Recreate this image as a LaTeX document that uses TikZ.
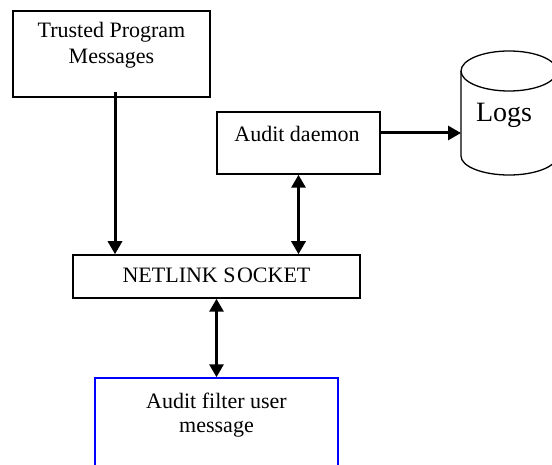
\documentclass[tikz,border=0pt]{standalone}
\usepackage{fontspec}
\setmainfont{Liberation Serif}
\usetikzlibrary{arrows.meta,calc}
\begin{document}
\begin{tikzpicture}[x=1pt,y=-1pt,
  box/.style={draw, line width=1.5pt, inner sep=0pt},
  txt/.style={font=\fontsize{22}{26}\selectfont, inner sep=0pt, anchor=base},
  arr/.style={line width=3pt, -{Triangle[length=13pt,width=14pt]}},
  darr/.style={line width=3pt, {Triangle[length=13pt,width=14pt]}-{Triangle[length=13pt,width=14pt]}}]
\useasboundingbox (0,0) rectangle (552,465);
\clip (0,0) rectangle (552,465);
% boxes
\node[box, minimum width=197pt, minimum height=86pt] (trusted) at (111.5,54) {};
\node[box, minimum width=163pt, minimum height=62pt] (audit) at (298.5,143) {};
\node[box, minimum width=287pt, minimum height=43pt] (netlink) at (216.5,276.5) {};
\node[box, draw={rgb,255:red,0;green,0;blue,255}, minimum width=243pt, minimum height=112pt] (filter) at (216.5,434) {};
% texts
\node[txt] (trustedA) at (111.5,38) {Trusted Program};
\node[txt] (trustedB) at (111.5,64) {Messages};
\node[txt] (audittxt) at (297,142) {Audit daemon};
\node[txt] (netlinktxt) at (216.5,283) {NETLINK S\kern1.5pt OCKET};
\node[txt] (filterA) at (216.5,408) {Audit filter user};
\node[txt] (filterB) at (216.5,432) {message};
% cylinder
\draw[line width=1.3pt] (461,71) -- (461,156)
  arc[start angle=180, end angle=360, x radius=48pt, y radius=19pt] -- (557,71);
\draw[line width=1.3pt] (509,71) ellipse [x radius=48pt, y radius=20pt];
\node[font=\fontsize{28}{30}\selectfont, inner sep=0pt, anchor=base] (logs) at (504,122) {Logs};
\coordinate (logsL) at (461,133);
% connectors
\coordinate (t1) at ([xshift=3.5pt,yshift=6pt]trusted.south);
\draw[arr] (t1) -- (t1 |- netlink.north);
\draw[darr] (audit.south) -- (audit.south |- netlink.north);
\draw[darr] (netlink.south) -- (netlink.south |- filter.north);
\coordinate (a1) at ([yshift=10pt]audit.east);
\draw[arr] (a1) -- (a1 -| logsL);
\end{tikzpicture}
\end{document}
